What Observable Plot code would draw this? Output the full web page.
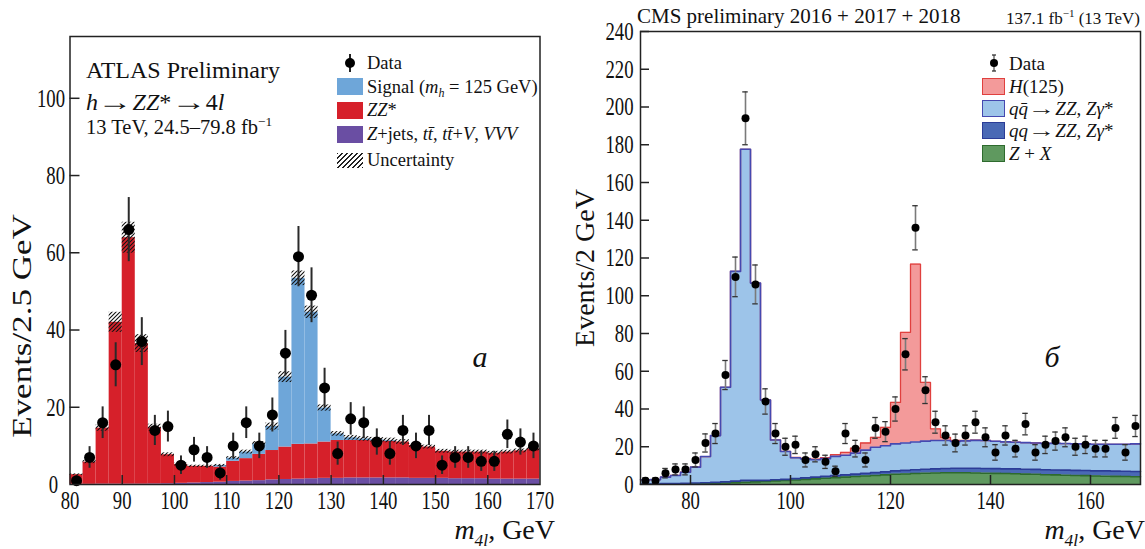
<!DOCTYPE html>
<html><head><meta charset="utf-8">
<script src="https://cdn.jsdelivr.net/npm/d3@7"></script>
<script src="https://cdn.jsdelivr.net/npm/@observablehq/plot@0.6"></script>
<style>
body{margin:0;background:#fff;}
#wrap{position:relative;width:1145px;height:549px;overflow:hidden;font-family:"Liberation Serif","Times New Roman",serif;color:#111;background:#fff;}
.abs{position:absolute;white-space:nowrap;line-height:1;}
.plotbox{position:absolute;top:0;}
.sw{position:absolute;box-sizing:border-box;}
sub,sup{line-height:0;}
.arr{display:inline-block;transform:scaleX(1.45);margin:0 0.22em;}
</style></head>
<body><div id="wrap"></div>
<script>
// ---------------- data: left panel (ATLAS) ----------------
const atlasRange = [80, 170];
const atlasXTicks = [80, 90, 100, 110, 120, 130, 140, 150, 160, 170];
const atlasYTicks = [0, 20, 40, 60, 80, 100];
const atlasBinLo = [80,82.5,85,87.5,90,92.5,95,97.5,100,102.5,105,107.5,110,112.5,115,117.5,120,122.5,125,127.5,130,132.5,135,137.5,140,142.5,145,147.5,150,152.5,155,157.5,160,162.5,165,167.5];
const atlasOther = [0.05,0.05,0.1,0.1,0.1,0.1,0.15,0.2,0.3,0.4,0.5,0.6,0.8,0.9,1.0,1.2,1.3,1.4,1.5,1.6,1.6,1.7,1.7,1.7,1.7,1.7,1.6,1.6,1.6,1.5,1.5,1.5,1.4,1.4,1.4,1.4];
const atlasZZ = [2.5,5.75,14.5,41.9,63.8,36.4,14.55,7.5,4.9,4.3,4.2,3.9,5.2,5.8,6.8,7.6,8.4,9.0,9.0,9.4,9.8,9.7,9.7,9.6,9.5,9.3,8.5,8.1,7.0,6.9,6.9,6.9,6.7,7.0,7.3,7.8];
const atlasSignal = [0,0,0,0,0,0,0,0,0,0,0,0.4,0.8,1.7,2.7,6.2,18.1,43.0,34.1,8.8,1.7,0.7,0.4,0.3,0.2,0,0,0,0,0,0,0,0,0,0,0];
const atlasUnc = [0.2,0.4,0.8,2.6,4.0,2.3,0.9,0.5,0.4,0.3,0.3,0.3,0.4,0.5,0.6,0.9,1.4,1.9,1.6,0.8,0.6,0.6,0.6,0.6,0.6,0.6,0.5,0.5,0.5,0.5,0.5,0.5,0.5,0.5,0.5,0.5];
const atlasData = [1,7,16,31,66,37,14,15,5,9,7,3,10,16,10,18,34,59,49,25,8,17,16,11,8,14,10,14,5,7,7,6,6,13,11,10];
const atlasErr = [1.3,2.8,4.1,5.7,8.3,6.2,3.9,4.0,2.4,3.2,2.8,1.9,3.3,4.1,3.3,4.4,5.9,7.8,7.1,5.1,3.0,4.2,4.1,3.4,3.0,3.9,3.3,3.9,2.4,2.8,2.8,2.6,2.6,3.7,3.4,3.3];
const atlasComp = ["other", "zz", "signal"];
const atlasColors = ["#6a4ea3", "#d6202a", "#6ea6d9"];

// ---------------- data: right panel (CMS) ----------------
const cmsRange = [70, 170];
const cmsXTicks = [80, 100, 120, 140, 160];
const cmsYTicks = [0, 20, 40, 60, 80, 100, 120, 140, 160, 180, 200, 220, 240];
const cmsBinLo = [70,72,74,76,78,80,82,84,86,88,90,92,94,96,98,100,102,104,106,108,110,112,114,116,118,120,122,124,126,128,130,132,134,136,138,140,142,144,146,148,150,152,154,156,158,160,162,164,166,168];
const cmsZX = [0.1,0.1,0.2,0.2,0.3,0.4,0.5,0.6,0.8,1.0,1.2,1.4,1.6,1.9,2.1,2.4,2.7,3.0,3.3,3.6,3.9,4.2,4.5,4.8,5.1,5.4,5.6,5.8,6.0,6.1,6.2,6.2,6.2,6.1,6.0,5.9,5.8,5.7,5.5,5.4,5.2,5.1,4.9,4.8,4.7,4.5,4.4,4.3,4.2,4.1];
const cmsGG = [0.2,0.2,0.3,0.3,0.3,0.4,0.4,0.5,0.6,0.8,1.0,0.8,0.6,0.6,0.6,0.7,0.8,0.9,1.0,1.1,1.2,1.3,1.4,1.5,1.6,1.8,1.9,2.0,2.1,2.2,2.3,2.4,2.4,2.5,2.5,2.5,2.5,2.6,2.6,2.6,2.6,2.6,2.7,2.7,2.7,2.7,2.8,2.8,2.8,2.8];
const cmsQQ = [2.2,2.3,3.4,4.3,5.9,8.4,13.9,24.8,50.1,111.1,175.4,104.5,42.6,21.1,14.8,11.1,10.1,9.2,9.4,10.2,10.4,11.1,12.3,13.4,13.8,14.3,14.5,14.7,14.9,15.0,14.8,14.2,14.5,14.8,14.8,14.5,14.3,14.1,14.1,14.0,14.0,14.1,14.1,14.0,14.1,14.1,14.1,14.2,14.3,14.6];
const cmsH = [0,0,0,0,0,0,0,0,0,0,0,0,0,0,0,0.1,0.2,0.3,0.5,0.9,1.5,2.6,3.8,5.3,9.8,22,58.6,94.3,31.1,6.2,1.7,0.5,0.2,0.1,0,0,0,0,0,0,0,0,0,0,0,0,0,0,0,0];
const cmsData = [2,2,6,8,8,13,22,27,58,110,194,106,44,27,20,21,13,16,12,7,27,19,13,30,28,40,69,136,50,33,26,22,26,33,25,17,26,19,32,17,21,23,25,20,21,19,19,30,17,31];
const cmsErr = [1.5,1.5,2.5,2.9,2.9,3.7,4.8,5.3,7.7,10.5,14,10.3,6.7,5.3,4.5,4.6,3.7,4,3.5,2.7,5.3,4.4,3.7,5.5,5.3,6.4,8.3,11.7,7.1,5.8,5.1,4.7,5.1,5.8,5,4.1,5.1,4.4,5.7,4.1,4.6,4.8,5,4.5,4.6,4.4,4.4,5.5,4.1,5.6];
const cmsComp = ["zx", "gg", "qq", "h"];
const cmsFill = ["#5f995f", "#4a69b5", "#9dc4e9", "#f39a9a"];
const cmsLine = ["#2e6b2e", "#2b3c97", "#4548b0", "#e0403e"];

// ---------------- build tables ----------------
const FONT = "Liberation Serif";
const atlasHi = atlasBinLo.map((lo, i) => i + 1 < atlasBinLo.length ? atlasBinLo[i + 1] : atlasRange[1]);
const atlasSeries = [atlasOther, atlasZZ, atlasSignal];
const atlasRows = [];
atlasBinLo.forEach((lo, i) => atlasSeries.forEach((s, k) => atlasRows.push({x1: lo, x2: atlasHi[i], v: s[i], comp: atlasComp[k]})));
const atlasHatch = atlasBinLo.map((lo, i) => {
  const t = atlasOther[i] + atlasZZ[i] + atlasSignal[i];
  return {x1: lo, x2: atlasHi[i], lo: t - atlasUnc[i], hi: t + atlasUnc[i]};
});
const atlasPts = atlasBinLo.map((lo, i) => ({x: (lo + atlasHi[i]) / 2, y: atlasData[i], lo: atlasData[i] - atlasErr[i], hi: atlasData[i] + atlasErr[i]}));

const cmsHi = cmsBinLo.map((lo, i) => i + 1 < cmsBinLo.length ? cmsBinLo[i + 1] : cmsRange[1]);
const cmsSeries = [cmsZX, cmsGG, cmsQQ, cmsH];
const cmsRows = [];
cmsBinLo.forEach((lo, i) => cmsSeries.forEach((s, k) => cmsRows.push({x1: lo, x2: cmsHi[i], v: s[i], comp: cmsComp[k]})));
// cumulative stack tops for outlines
const cmsOutlines = cmsComp.map((c, k) => {
  const pts = cmsBinLo.map((lo, i) => ({x: lo, y: cmsSeries.slice(0, k + 1).reduce((a, s) => a + s[i], 0)}));
  pts.push({x: cmsRange[1], y: pts[pts.length - 1].y});
  return pts;
});
const cmsPts = cmsBinLo.map((lo, i) => ({x: (lo + cmsHi[i]) / 2, y: cmsData[i], lo: cmsData[i] - cmsErr[i], hi: cmsData[i] + cmsErr[i]}));

// ---------------- plots ----------------
const hatchDefs = () => {
  const ns = "http://www.w3.org/2000/svg";
  const defs = document.createElementNS(ns, "defs");
  defs.innerHTML = '<pattern id="atlasHatch" patternUnits="userSpaceOnUse" width="4" height="4"><path d="M-1,1 l2,-2 M0,4 l4,-4 M3,5 l2,-2" stroke="#111" stroke-width="1.1"/></pattern>';
  return defs;
};

const LW = 560, LH = 549, LM = {l: 69.5, r: 20.5, t: 36, b: 65};
const LFW = LW - LM.l - LM.r, LFH = LH - LM.t - LM.b;
const TICKFS = 26;

const atlasPlot = Plot.plot({
  width: LW, height: LH,
  marginLeft: LM.l, marginRight: LM.r, marginTop: LM.t, marginBottom: LM.b,
  x: {domain: atlasRange},
  y: {domain: [0, 116]},
  color: {domain: atlasComp, range: atlasColors},
  style: {fontFamily: FONT, fontSize: TICKFS + "px", background: "transparent", color: "#111", overflow: "visible"},
  marks: [
    hatchDefs,
    Plot.rectY(atlasRows, {x1: "x1", x2: "x2", y: "v", fill: "comp", z: "comp", inset: 0}),
    Plot.rect(atlasHatch, {x1: "x1", x2: "x2", y1: "lo", y2: "hi", fill: "url(#atlasHatch)", inset: 0}),
    Plot.ruleX(atlasPts, {x: "x", y1: "lo", y2: "hi", stroke: "#2a2a2a", strokeWidth: 2}),
    Plot.dot(atlasPts, {x: "x", y: "y", r: 5.5, fill: "#000", stroke: "none"}),
    Plot.tickX(atlasXTicks.slice(1, -1), {x: d => d, insetTop: LFH - 9, stroke: "#222", strokeWidth: 1.5}),
    Plot.tickY(atlasYTicks.slice(1), {y: d => d, insetRight: LFW - 10, stroke: "#222", strokeWidth: 1.5}),
    Plot.frame({stroke: "#222", strokeWidth: 1.5}),
    Plot.axisX({ticks: atlasXTicks, tickSize: 0, tickPadding: 6, label: null, fontSize: TICKFS}),
    Plot.axisY({ticks: atlasYTicks, tickSize: 0, tickPadding: 5, label: null, fontSize: TICKFS})
  ]
});

const RW = 585, RH = 549, RM = {l: 80, r: 5, t: 31, b: 65};
const RFW = RW - RM.l - RM.r, RFH = RH - RM.t - RM.b;

const cmsPlot = Plot.plot({
  width: RW, height: RH,
  marginLeft: RM.l, marginRight: RM.r, marginTop: RM.t, marginBottom: RM.b,
  x: {domain: cmsRange},
  y: {domain: [0, 240]},
  color: {domain: cmsComp, range: cmsFill},
  style: {fontFamily: FONT, fontSize: TICKFS + "px", background: "transparent", color: "#111", overflow: "visible"},
  marks: [
    Plot.rectY(cmsRows, {x1: "x1", x2: "x2", y: "v", fill: "comp", z: "comp", inset: 0}),
    // H(125) outline first, then the background outlines over it
    Plot.line(cmsOutlines[3], {x: "x", y: "y", curve: "step-after", stroke: cmsLine[3], strokeWidth: 1.3}),
    ...[0, 1, 2].map(k => Plot.line(cmsOutlines[k], {x: "x", y: "y", curve: "step-after", stroke: cmsLine[k], strokeWidth: 1.6})),
    Plot.ruleX(cmsPts, {x: "x", y1: "lo", y2: "hi", stroke: "#7a7a7a", strokeWidth: 1.6}),
    Plot.ruleY(cmsPts, {y: "hi", x1: d => d.x - 0.55, x2: d => d.x + 0.55, stroke: "#333", strokeWidth: 1.3}),
    Plot.ruleY(cmsPts, {y: "lo", x1: d => d.x - 0.55, x2: d => d.x + 0.55, stroke: "#333", strokeWidth: 1.3}),
    Plot.dot(cmsPts, {x: "x", y: "y", r: 4, fill: "#000", stroke: "none"}),
    Plot.tickX(cmsXTicks, {x: d => d, insetTop: RFH - 9, stroke: "#222", strokeWidth: 1.5}),
    Plot.tickY(cmsYTicks.slice(1), {y: d => d, insetRight: RFW - 9, stroke: "#222", strokeWidth: 1.5}),
    Plot.frame({stroke: "#222", strokeWidth: 1.5}),
    Plot.axisX({ticks: cmsXTicks, tickSize: 0, tickPadding: 6, label: null, fontSize: TICKFS}),
    Plot.axisY({ticks: cmsYTicks, tickSize: 0, tickPadding: 7, label: null, fontSize: TICKFS})
  ]
});

function squeeze(svg, k, nudgeZero) {
  svg.querySelectorAll('g[aria-label$="tick label"] text').forEach(t => {
    const xa = t.getAttribute("x");
    const tr = t.getAttribute("transform") || "";
    const isYZero = nudgeZero && t.textContent.trim() === "0" && t.closest('g[aria-label="y-axis tick label"]');
    const pre = isYZero ? " translate(-7,0)" : "";
    if (xa != null && !isNaN(+xa)) {
      t.setAttribute("x", 0);
      t.setAttribute("transform", `${tr}${pre} translate(${xa},0) scale(${k},1)`);
    } else {
      t.setAttribute("transform", `${tr}${pre} scale(${k},1)`);
    }
  });
}
squeeze(atlasPlot, 0.72, true);
squeeze(cmsPlot, 0.72, false);

const wrap = document.getElementById("wrap");
const boxL = document.createElement("div"); boxL.className = "plotbox"; boxL.style.left = "0px"; boxL.appendChild(atlasPlot); wrap.appendChild(boxL);
const boxR = document.createElement("div"); boxR.className = "plotbox"; boxR.style.left = "560px"; boxR.appendChild(cmsPlot); wrap.appendChild(boxR);

// ---------------- text overlays ----------------
function addText(html, x, y, size, anchor = "left", rotate = 0, stretch = 1) {
  const d = document.createElement("div");
  d.className = "abs";
  d.innerHTML = html;
  d.style.fontSize = size + "px";
  d.style.left = x + "px";
  d.style.top = y + "px";
  const tx = anchor === "left" ? "0" : anchor === "right" ? "-100%" : "-50%";
  d.style.transform = `translate(${tx},-50%)` + (rotate ? ` rotate(${rotate}deg)` : "") + (stretch !== 1 ? ` scaleX(${stretch})` : "");
  wrap.appendChild(d);
  return d;
}
function addSwatch(x, y, w, h, fill, border) {
  const s = document.createElement("div");
  s.className = "sw";
  s.style.left = x + "px"; s.style.top = (y - h / 2) + "px";
  s.style.width = w + "px"; s.style.height = h + "px";
  s.style.background = fill;
  if (border) s.style.border = "1.5px solid " + border;
  wrap.appendChild(s);
}
function addMarker(cx, cy, r, len, caps) {
  const ns = "http://www.w3.org/2000/svg";
  const s = document.createElementNS(ns, "svg");
  s.setAttribute("width", 20); s.setAttribute("height", 30);
  s.style.position = "absolute"; s.style.left = (cx - 10) + "px"; s.style.top = (cy - 15) + "px";
  let inner = `<line x1="10" x2="10" y1="${15 - len}" y2="${15 + len}" stroke="${caps ? '#777' : '#222'}" stroke-width="${caps ? 1.6 : 2}"/>`;
  if (caps) inner += `<line x1="8" x2="12" y1="${15 - len}" y2="${15 - len}" stroke="#333" stroke-width="1.3"/><line x1="8" x2="12" y1="${15 + len}" y2="${15 + len}" stroke="#333" stroke-width="1.3"/>`;
  inner += `<circle cx="10" cy="15" r="${r}" fill="#000"/>`;
  s.innerHTML = inner;
  wrap.appendChild(s);
}
const ARR = "<span class='arr'>→</span>";

// left panel annotations
addText("ATLAS Preliminary", 86, 70, 24);
addText(`<i>h</i>${ARR}<i>ZZ</i>*${ARR}4<i>l</i>`, 86, 102, 24);
addText("13 TeV, 24.5–79.8 fb<sup style='font-size:0.65em'>−1</sup>", 86, 127, 20.5);
addText("<i>a</i>", 480, 357, 30, "center");
addText("Events/2.5 GeV", 22, 326, 28, "center", -90, 1.25);
addText("<i>m</i><sub style='font-size:0.62em'><i>4l</i></sub>, GeV", 555, 530, 28, "right");

// left legend
addMarker(350, 63, 5, 9, false);
addText("Data", 367, 63, 18.5);
addSwatch(337, 86.5, 26, 17, atlasColors[2]);
addText("Signal (<i>m<sub style='font-size:0.65em'>h</sub></i> = 125 GeV)", 367, 86.5, 18.5);
addSwatch(337, 110, 26, 17, atlasColors[1]);
addText("<i>ZZ</i>*", 367, 110, 18.5);
addSwatch(337, 134, 26, 17, atlasColors[0]);
addText("<i>Z</i>+jets, <i>tt̄</i>, <i>tt̄</i>+<i>V</i>, <i>VVV</i>", 367, 134, 18.5);
addSwatch(337, 160, 26, 15, "repeating-linear-gradient(-45deg, #222 0 1px, #fff 1px 3.5px)");
addText("Uncertainty", 367, 160, 18.5);

// right panel annotations
addText("CMS preliminary 2016 + 2017 + 2018", 637, 16, 21);
addText("137.1 fb<sup style='font-size:0.65em'>−1</sup> (13 TeV)", 1140, 18, 17, "right");
addText("<i>б</i>", 1052, 357, 30, "center");
addText("Events/2 GeV", 585, 268, 28, "center", -90);
addText("<i>m</i><sub style='font-size:0.62em'><i>4l</i></sub>, GeV", 1145, 530, 28, "right");

// right legend
addMarker(994, 63, 4, 8, true);
addText("Data", 1009, 63, 19);
addSwatch(982, 86, 23, 17, cmsFill[3], cmsLine[3]);
addText("<i>H</i>(125)", 1009, 86, 19);
addSwatch(982, 108, 23, 17, cmsFill[2], cmsLine[2]);
addText(`<i>qq̄</i>${ARR}<i>ZZ</i>, <i>Zγ</i>*`, 1009, 108, 19);
addSwatch(982, 130, 23, 17, cmsFill[1], cmsLine[1]);
addText(`<i>qq</i>${ARR}<i>ZZ</i>, <i>Zγ</i>*`, 1009, 130, 19);
addSwatch(982, 153, 23, 17, cmsFill[0], cmsLine[0]);
addText("<i>Z</i> + <i>X</i>", 1009, 153, 19);
</script>
</body></html>
